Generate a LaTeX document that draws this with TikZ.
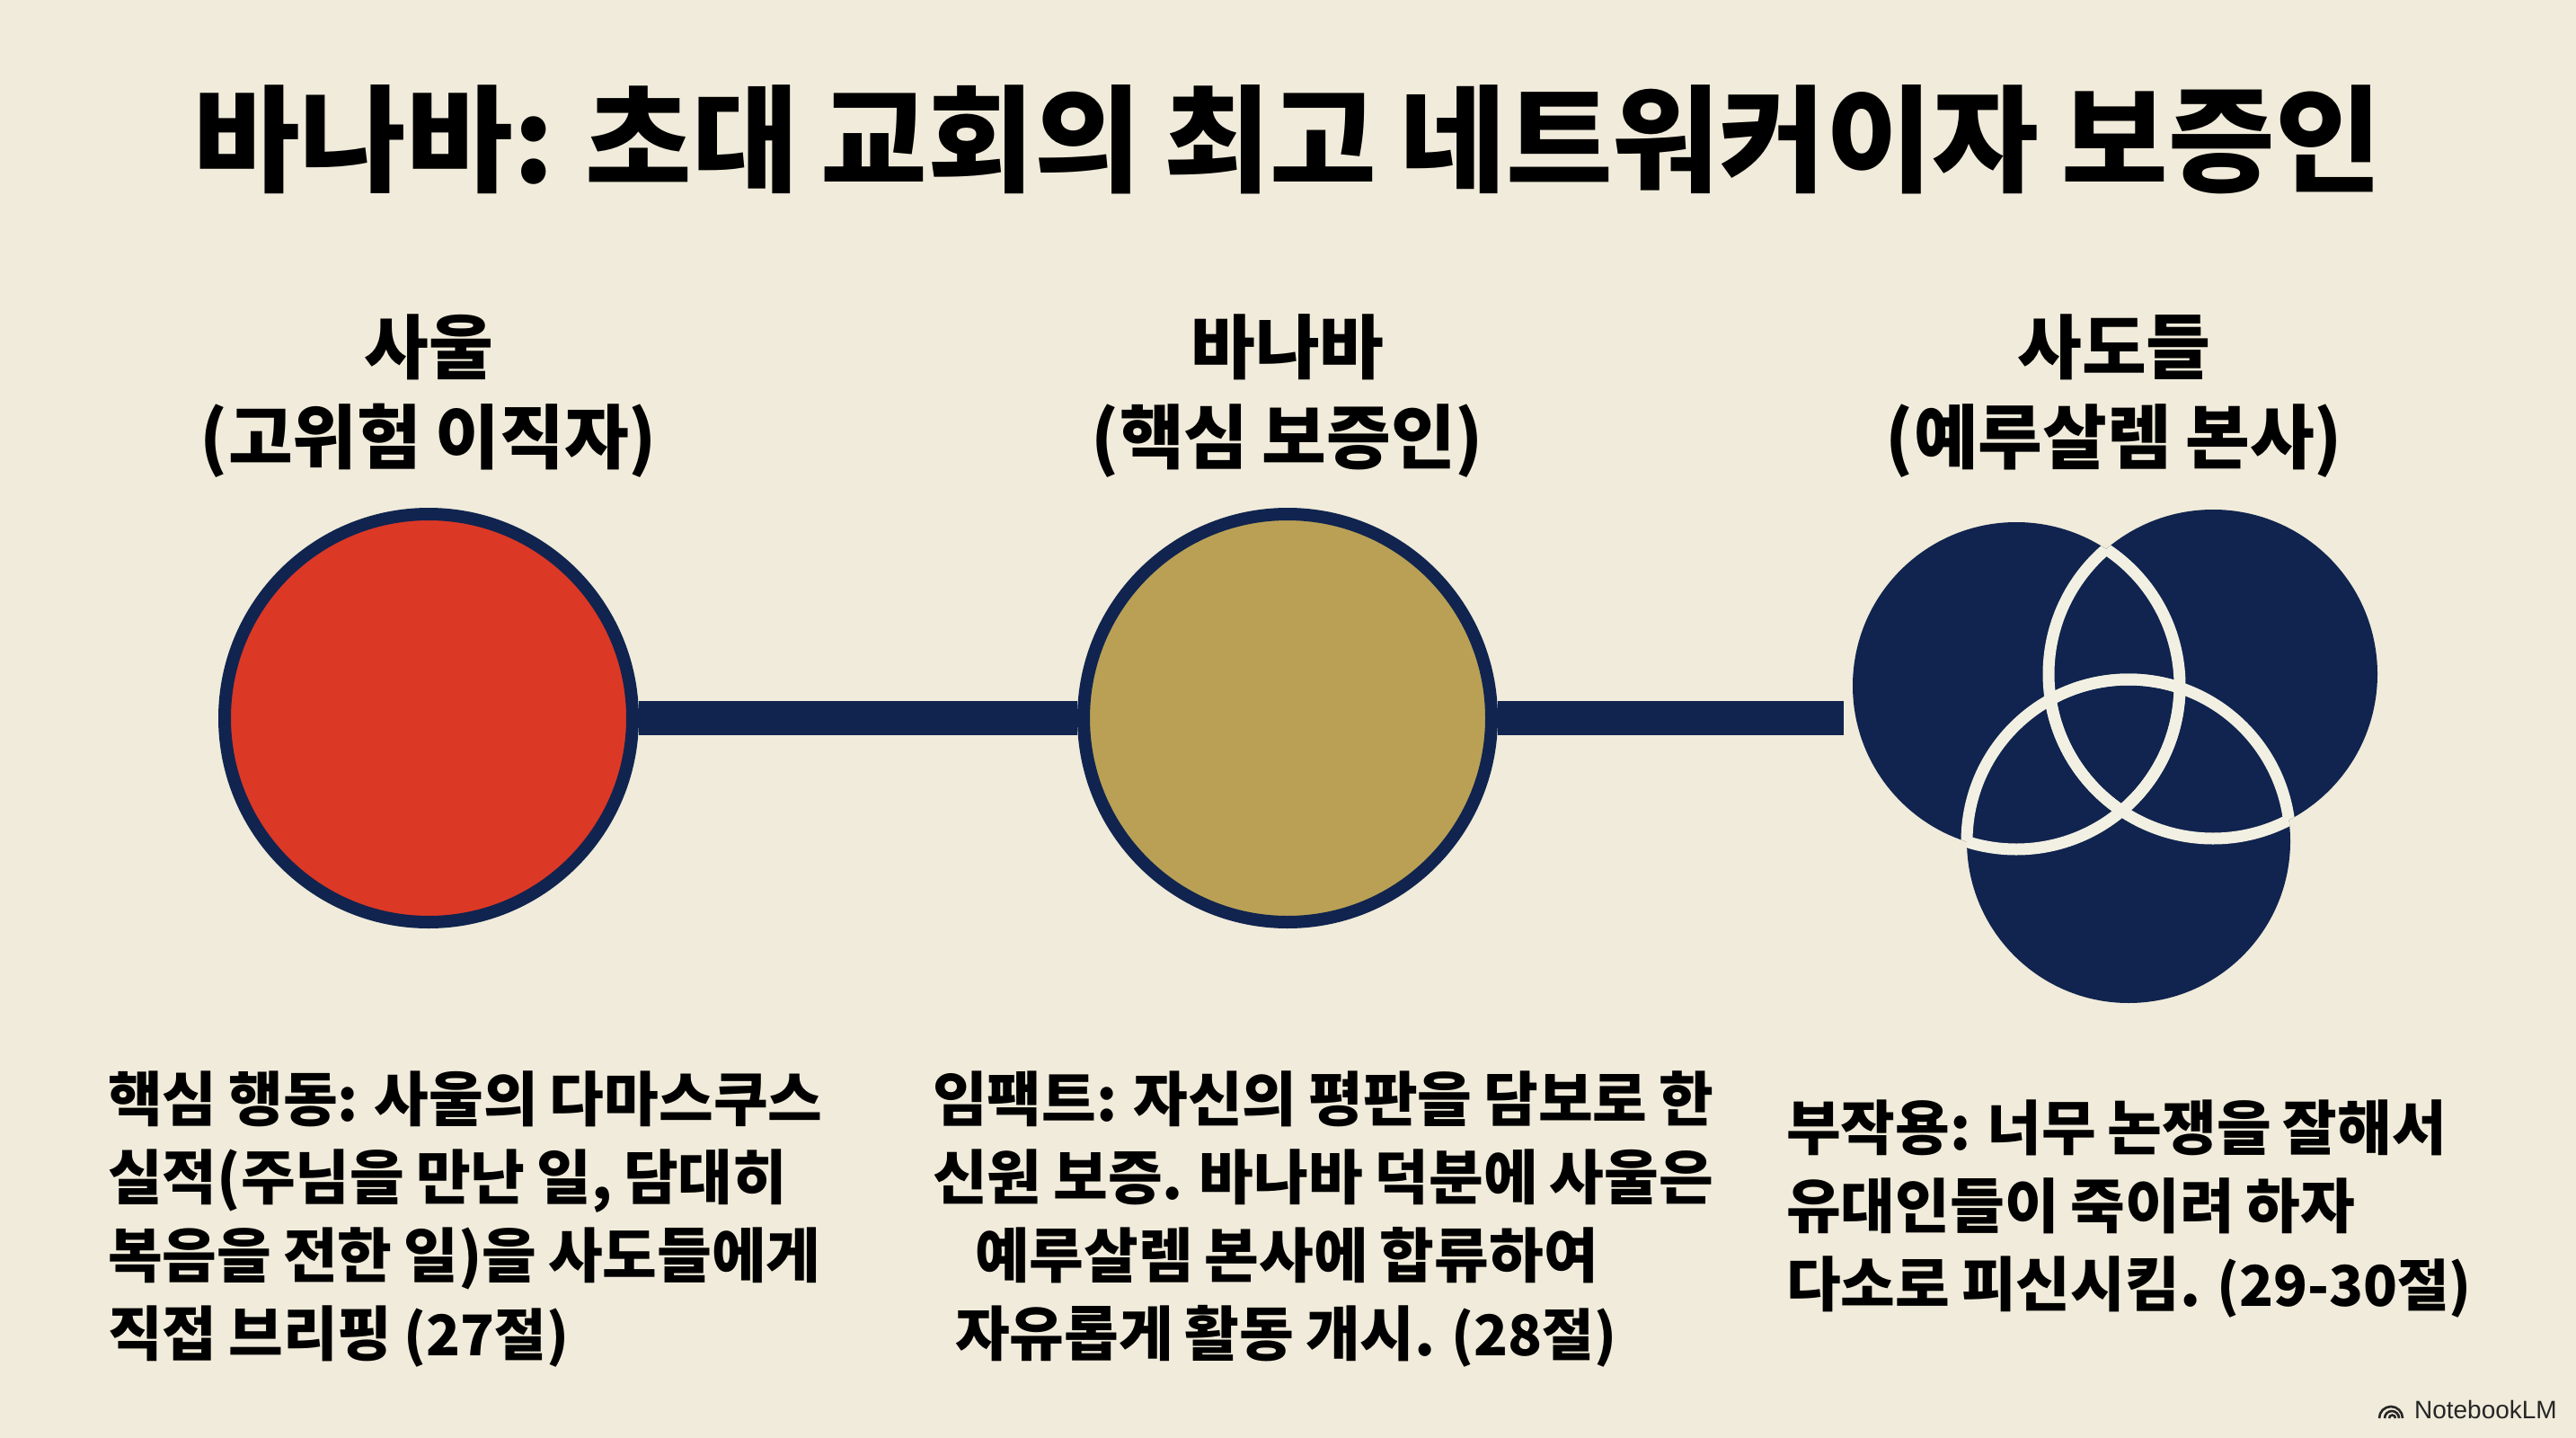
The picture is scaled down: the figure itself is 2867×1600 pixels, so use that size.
\documentclass[tikz,border=0pt]{standalone}
\usepackage{fontspec}
\setmainfont{Liberation Sans}
\newfontfamily\kr{Noto Sans CJK KR}[BoldFont={Noto Sans CJK KR Black}]
\newfontfamily\krbody{Noto Sans CJK KR Black}[WordSpace=0.85]
\newcommand{\versetxt}[1]{{\fontsize{62.5}{87}\selectfont #1}}
\definecolor{paper}{HTML}{F0EBDA}
\definecolor{navy}{HTML}{10244F}
\definecolor{ringc}{HTML}{F2F0E2}
\definecolor{redc}{HTML}{DC3826}
\definecolor{gold}{HTML}{B9A055}
\tikzset{
 px/.style={x=1pt,y=-1pt},
 titletxt/.style={font=\kr\bfseries\fontsize{129}{136}\selectfont,text=black},
 headtxt/.style={font=\kr\bfseries\fontsize{78}{100}\selectfont,align=center,text=black},
 bodytxt/.style={font=\krbody\fontsize{66}{87}\selectfont,align=left,text=black,anchor=north west,inner sep=0pt},
 disc/.style={circle,draw=navy,line width=14pt,minimum size=454pt,inner sep=0pt},
 apost/.style={circle,fill=navy,draw=none,inner sep=0pt},
 link/.style={draw=navy,line width=38pt},
 ringline/.style={draw=ringc,line width=13pt},
 logoarc/.style={draw=black!85,line width=2.6pt}
}
\begin{document}
\begin{tikzpicture}[px]
\fill[paper] (0,0) rectangle (2867,1600);
\useasboundingbox (0,0) rectangle (2867,1600);
\coordinate (netend) at (2052,799);
\node[disc,fill=redc] (saul) at (477,799) {};
\node[disc,fill=gold] (barnabas) at (1433,799) {};
\draw[link] (saul) -- (barnabas);
\draw[link] (barnabas) -- (netend);
\node[apost,minimum size=364pt] (a1) at (2244,763) {};
\node[apost,minimum size=366pt] (a2) at (2463,750) {};
\node[apost,minimum size=360pt] (a3) at (2369,936) {};
% rings show only where one disc lies over another
\begin{scope}\clip (2463,750) circle (183);\draw[ringline] (2244,763) circle (182);\end{scope}
\begin{scope}\clip (2369,936) circle (180);\draw[ringline] (2244,763) circle (182);\end{scope}
\begin{scope}\clip (2244,763) circle (182);\draw[ringline] (2463,750) circle (183);\end{scope}
\begin{scope}\clip (2369,936) circle (180);\draw[ringline] (2463,750) circle (183);\end{scope}
\begin{scope}\clip (2244,763) circle (182);\draw[ringline] (2369,936) circle (180);\end{scope}
\begin{scope}\clip (2463,750) circle (183);\draw[ringline] (2369,936) circle (180);\end{scope}
\node[titletxt] (title) at (1433,155) {바나바: 초대 교회의 최고 네트워커이자 보증인};
\node[headtxt] (h1) at (477,441) {사울\\(고위험 이직자)};
\node[headtxt] (h2) at (1433,441) {바나바\\(핵심 보증인)};
\node[headtxt] (h3) at (2353,441) {사도들\\(예루살렘 본사)};
\node[bodytxt] (b1) at (120,1192) {핵심 행동: 사울의 다마스쿠스\\실적(주님을 만난 일, 담대히\\복음을 전한 일)을 사도들에게\\직접 브리핑 \versetxt{(27절)}};
\node[bodytxt] (b2) at (1038,1192) {임팩트: 자신의 평판을 담보로 한\\신원 보증. 바나바 덕분에 사울은\\\hspace*{47pt}예루살렘 본사에 합류하여\\\hspace*{25pt}자유롭게 활동 개시. \versetxt{(28절)}};
\node[bodytxt] (b3) at (1988,1224) {부작용: 너무 논쟁을 잘해서\\유대인들이 죽이려 하자\\다소로 피신시킴. \versetxt{(29-30절)}};
\node[font=\fontsize{28}{32}\selectfont,text=black!85,anchor=base east,inner sep=0pt] (nb) at (2846,1578) {NotebookLM};
\draw[logoarc] (2648,1578) arc (180:360:13);
\draw[logoarc] (2654,1578) arc (180:360:8);
\draw[logoarc] (2659,1578) arc (180:360:3.5);
\end{tikzpicture}
\end{document}
